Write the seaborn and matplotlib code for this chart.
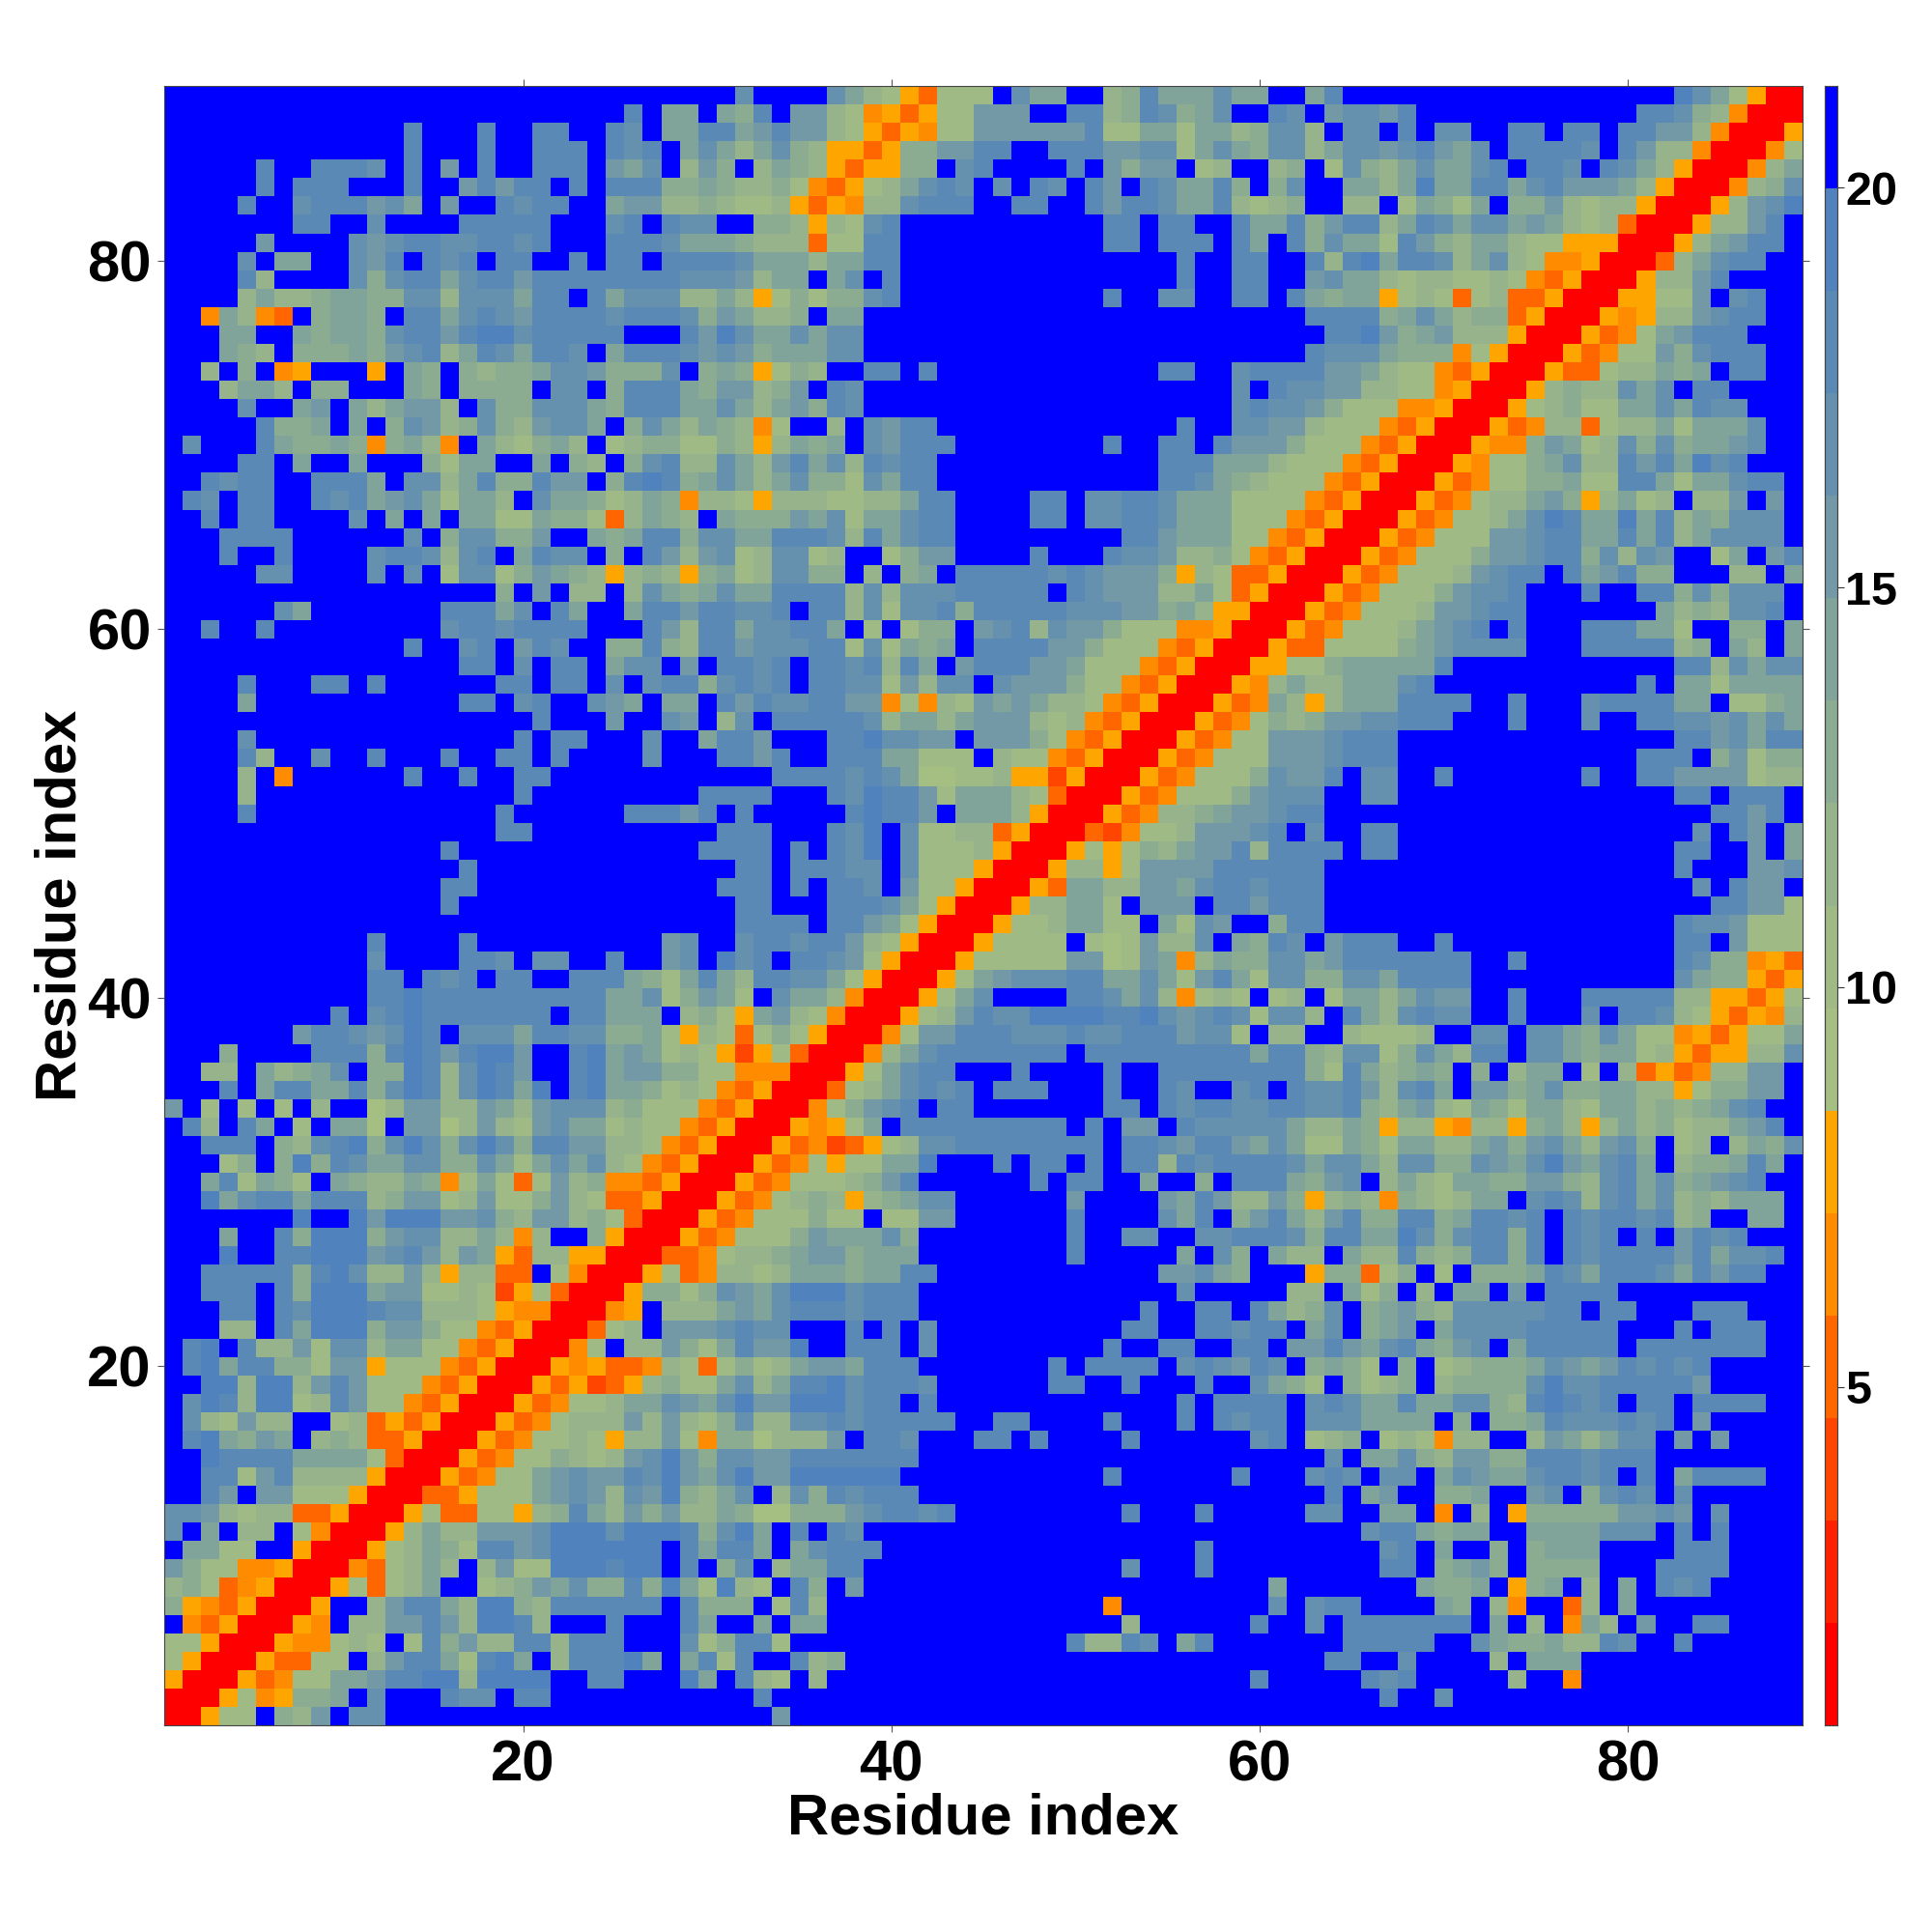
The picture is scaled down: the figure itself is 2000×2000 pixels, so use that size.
# -*- coding: utf-8 -*-
# residue contact map, one hex digit per cell = colour level of the distance
import numpy as np
import matplotlib
matplotlib.use("Agg")
import matplotlib.pyplot as plt
from matplotlib.colors import ListedColormap
import seaborn as sns

F = "f"

# y = 1..29, x = y..30
rows_a = [
    "00577f98bfcc" + F*18, "00574599afcfffdccfdd" + F*9, "0053477aabddee8eeeeffddfffea",
    "0053377f8bdda7deaf8dddeafad", "00544787f7d9b88dd8dddfffc7", "0054f88bbdb8eed8fffdfffda",
    "005ff8bdda8ee98ddddddfd9", "0057378aff789bac99d9ea7", "004378a8f8b77eeedeefdf",
    "00578a97ddbceeeeeefda", "0058a88bbbceeeceeed9", "00573377589da8b9b88",
    "00335777abcb8cbe98", "0053477abcbbdceba", "00534779878bceb9", "005347787588b74",
    "005347888b8b87", "00534778aacba", "005352358977", "00545334873", "0047f88b97",
    "00378fbbb", "0045f888", "0059979", "005734", "00334", "0053", "005", "00",
]
# y = 1..29, x = 31..60
rows_b = [
    "fffb" + F*26, "ffd" + F*27, "fd87f8" + F*23 + "d", "7dffd89" + F*23,
    "9dd7" + F*15 + "d88dcfadfff", "ffafaa" + F*16 + "8" + F*6 + "d",
    "99f7d8" + F*15 + "4" + F*8, "e87fd9fb" + F*22,
    "9cf8aadd" + F*14 + "cfffdfff", "ddafacddd" + F*17 + "dfff", "ceafdfdc" + F*22,
    "a966999bcddcd" + F*9 + "dfffdfff", "acf8c9dcddd" + F*19,
    "cebbeeeeee" + F*11 + "d" + F*6 + "df", "ccbbddddddd" + F*19,
    "996888bfddcfffddfd" + F*4 + "d" + F*6 + "c",
    "9c88ccdcdddddffddffffdfffdfdcd", "cebbeeecddfd" + F*13 + "dfddd",
    "ac8addecdddc" + F*6 + "ddffdfffdffc", "7978abbaddd" + F*7 + "dfddddfcdcbd",
    "adbbeffdddfc" + F*9 + "dffddffdd", "cdccfffdfdfc" + F*10 + "ddffddcd",
    "abacdddcddd" + F*12 + "dffddfd", "cbaceeecddd" + F*14 + "cffff",
    "8878aaa9aadd" + F*12 + "bbca9f", "7889abb9aaa" + F*8 + "d" + F*5 + "afc9f",
    "47779baaac9" + F*8 + "dffccffccdd", "34777977f77bb" + F*6 + "d" + F*4 + "cadf9b",
    "5347898589acc" + F*6 + "b" + F*4 + "badb88",
]
# y = 1..29, x = 61..89
rows_c = [
    F*29,
    F*6 + "dffc" + F*19,
    F*5 + "dcd" + F*5 + "8ff4" + F*12,
    "fffddffcffff8faaa" + F*12,
    "ffffdddddffca99a88dcffd" + F*6,
    "ffcfdddddddfaf8f4a8fbffddffff",
    "cfcddffffa9f84ff38fa" + F*9,
    "a" + F*7 + "a99af59af8fafdcd" + F*5,
    F*6 + "ddf9ab9f9999fffddddffff",
    F*6 + "cdfaff9f9aaaffffdddffff",
    F*5 + "cdda9aaffaaaacccfdfdffff",
    "ffccffaaf4f8f599999bbcbfcffff",
    "fffdfabff99affbcf9cdcfc" + F*6,
    "ffcdcfccfacbaacddcdfdfaddddff",
    "fffcfaac98bb99dddcddd" + F*8,
    "df789f787488ff8ba8accfbfbffff",
    "dfcccaaaaf9f99adcccdcdfb" + F*5,
    "dfcdcaadaacc98dedcdfddfddddff",
    "a97f9789f89999ceccdddddb" + F*5,
    "cf9a97f9f78999acbabdcdcd" + F*5,
    "fbbdbacda9bcfadddddfdddddddff",
    "dfacf9abfaccccdddddfffdfdddff",
    "a89cf9ab98cccccddfddfffdddfff",
    "f88fa79f8faafbfdddd" + F*10,
    "ff599379f7f999adcadddcadbddff",
    "a88fa88d989dd9dfdcddddbdaccdf",
    "dc9ddaaec9cdd9dfdcdfdfbdcdfff",
    "da8bd99dd9addcdfdcddcd89ffaaf",
    "b9589849878aafcdc8cdac898aaaf",
]
# y = 30..59, x = y..60
rows_d = [
    "0053477789bdffffffdfddffaff9fdd", "005347577aaefffdfddfdfdd8dcddd",
    "0053423578ccddddddddfddcbddba", "005457afdddddddddfdfbbfdcccc",
    "00479bcdfddfffffffddfdcddcc", "00378acdcdfdddfffdffdcffcd",
    "0057acddfffdffffdffdddddd", "0048acdddddddfddddddddda",
    "0047bbdddcccdccdddbcc7f", "00578bdcceeeeddecbcdc7", "0057acffffddcac84787f",
    "0057abcccddaaca7bda7", "00577777bb67ba48a99", "0057777f767b88cfa9",
    "005778aa77fa7cbff", "00588aa7fbbbfddb", "0053aa88bbacddc", "0058857bbbbddd",
    "00575798abbd8", "00324778bbbc", "00534889abb", "005347779b", "005347779",
    "00534777", "0053477", "005347", "00534", "0054", "005", "00",
]
# y = 30..59, x = 61..89
rows_e = [
    "da9bcf8a87aa99bb98cdac9abcdff", "dcacca8cc99cbacebacdaf899adaf",
    "ca77a97aa88ab9bca8bc9f78f8a9c", "ca88a9588548859a858a89788abdf",
    "ddccd98ab87a97aa87aa8989acdff", "fdccdb8cdafbb9ac99aa885799bbf",
    "dd97da89a9f9f8aaf7f8353488bbf", "dd98cc79ca8ddfcca9aa78535588c",
    "88ff87778ffccfcca9ca77453577a", "cc8fda8cdccffdfffcfddc8753548",
    "78f7aa8acbbffdfffddddd8855357", "cc99ccadddd" + F*11 + "ca99535",
    "ccabdddddddffd" + F*8 + "dc99453", "dcfbdddffd" + F*12 + "ddfb777",
    "9dd" + F*19 + "dccb777", "ddd" + F*21 + "ddbb7", "ddd" + F*20 + "cfdbbf",
    "ddd" + F*19 + "dfffbbc", "ddddfdd" + F*15 + "ddffbfa", "dfcffdd" + F*16 + "cfdbfa",
    "cdd" + F*21 + "ddbdf", "cccffcc" + F*15 + "ddfdddf",
    "cbbdfccffd" + F*7 + "dffddbbbb788", "bbbcddd" + F*13 + "dddf9b799",
    "bbbcddd" + F*15 + "ddbcadd", "989bbccdddfffdfffcffddccbcaca",
    "a858aaaddddffdfffcddddaaf779a", "8a88aaacd" + F*11 + "dfaa7aaaa",
    "5779aaaaad" + F*12 + "dd8cacc", "53377779abccccfffddddd89fa8fa",
]
# y = 60..89, x = y..89
rows_f = [
    "005347778abcdfdfffdddaa7ff99fa", "005347778bbcddfffffffa898ccdf",
    "005347779bccdfffdffdd9c9cccf", "005347778bcddfdabd99fff88fa",
    "005347779bbcdd9c8cbff7afbd", "00534777bbcddaadad8accccf",
    "00534778acedaaead8a9cccf", "00534788ab958a78f88bfbf",
    "005347799a77dda7aacddf", "0054779ac88dbdaecdfff", "005449ba78c9c9aabcff",
    "00534883788a7aaacff", "00578977aacadccfff", "0058988cacfddffff",
    "00533788a9afddff", "0053477b9cdddff", "005347abdddfff", "0054588bcddff",
    "005577bfcdff", "00588bdffff", "0038acddff", "0058abddf", "00588bdf",
    "0058bce", "00489c", "0048a", "0047", "005", "00", "0",
]

tick_vals = [20, 40, 60, 80]
cbar_ticks = [5, 10, 15, 20]
level_colors = ["#ff0000", "#ff2000", "#ff4500", "#ff6600", "#ff8c00", "#ffa500",
                "#a5be82", "#a0ba86", "#97b38c", "#8cac92", "#80a39a", "#7299a5",
                "#6591af", "#5a89b6", "#5082be", "#0000ff"]
vmin, vmax = 0.77, 21.27

n = 89
step = (vmax - vmin) / 16
dist = np.zeros((n, n))
for i in range(n):
    if i < 29:
        row = rows_a[i] + rows_b[i] + rows_c[i]
    elif i < 59:
        row = rows_d[i - 29] + rows_e[i - 29]
    else:
        row = rows_f[i - 59]
    for k, c in enumerate(row):
        dist[i, i + k] = dist[i + k, i] = vmin + (int(c, 16) + 0.5) * step

sns.set_theme(style="white")
plt.rcParams["font.family"] = ["Liberation Sans", "DejaVu Sans"]
plt.rcParams["font.weight"] = "bold"

fig = plt.figure(figsize=(20, 20), dpi=100)
ax = fig.add_axes([170/2000, 1 - 1786/2000, 1696/2000, 1697/2000])
cax = fig.add_axes([1889/2000, 1 - 1786/2000, 13/2000, 1697/2000])

sns.heatmap(dist, ax=ax, cbar_ax=cax, cmap=ListedColormap(level_colors), vmin=vmin, vmax=vmax,
            square=False, xticklabels=False, yticklabels=False, cbar_kws={"ticks": cbar_ticks})
ax.invert_yaxis()

ax.set_xticks([t - 0.5 for t in tick_vals])
ax.set_yticks([t - 0.5 for t in tick_vals])
ax.set_xticklabels(tick_vals, fontsize=43, fontweight="bold")
ax.set_yticklabels(tick_vals, fontsize=43, fontweight="bold", rotation=0)
ax.tick_params(axis="both", length=5, width=0.8, color="#555555",
               bottom=True, left=True, top=True, right=True, labelcolor="black")
ax.tick_params(axis="x", pad=5.5)
ax.tick_params(axis="y", pad=4.5)
for s in ax.spines.values():
    s.set_visible(True)
    s.set_color("#444444")
    s.set_linewidth(0.8)

ax.set_xlabel("Residue index", fontsize=43, fontweight="bold", color="black")
ax.set_ylabel("Residue index", fontsize=43, fontweight="bold", color="black")
ax.xaxis.set_label_coords(0.5, -0.041)
ax.yaxis.set_label_coords(-0.047, 0.5)

cax.tick_params(axis="y", length=5, width=0.8, color="#333333", pad=1, labelsize=35, labelcolor="black")
for lab in cax.get_yticklabels():
    lab.set_fontweight("bold")
cax.collections[0].set_edgecolor("face")
for s in cax.spines.values():
    s.set_visible(True)
    s.set_color("#444444")
    s.set_linewidth(0.8)

fig.savefig("out.png", dpi=100)
